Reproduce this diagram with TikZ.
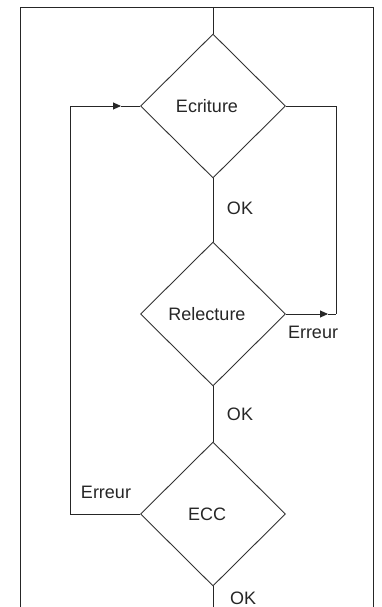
\documentclass[tikz,border=0pt]{standalone}
\usepackage{fontspec}
\setmainfont{Liberation Sans}
\usetikzlibrary{shapes.geometric,arrows.meta}
\begin{document}
\begin{tikzpicture}[x=1pt,y=-1pt,line width=0.9pt,
  txt/.style={font=\fontsize{18}{20}\selectfont, text=black!85},
  dec/.style={diamond, draw=black!80, minimum width=145pt, minimum height=144pt,
    inner sep=0pt, txt, execute at end node={\hspace*{12pt}}},
  lbl/.style={txt, inner sep=0pt},
  wire/.style={draw=black!85},
  tip/.style={-{Triangle[length=8pt,width=7pt]}}]
\useasboundingbox (0,0) rectangle (381,607);
% frame
\coordinate (f1) at (20,607);
\coordinate (f2) at (20,7);
\coordinate (f3) at (373,7);
\coordinate (f4) at (373,607);
\draw[wire] (f1) -- (f2) -- (f3) -- (f4);
% decisions
\node[dec] (ecr) at (213,106) {Ecriture};
\node[dec] (rel) at (213,314) {Relecture};
\node[dec] (ecc) at (213,514) {ECC};
% helper coordinates
\coordinate (top) at (213,7);
\coordinate (bot) at (213,607);
\coordinate (r1) at (336,106);
\coordinate (r2) at (336,314);
\coordinate (ra) at (328,314);
\coordinate (l1) at (70,514);
\coordinate (l2) at (70,106);
\coordinate (la) at (121,106);
% connectors
\draw[wire] (top) -- (ecr.north);
\draw[wire] (ecr.south) -- (rel.north);
\draw[wire] (rel.south) -- (ecc.north);
\draw[wire] (ecc.south) -- (bot);
\draw[wire] (ecr.east) -- (r1) -- (r2);
\draw[wire,tip] (rel.east) -- (ra);
\draw[wire] (ra) -- (r2);
\draw[wire] (ecc.west) -- (l1) -- (l2);
\draw[wire,tip] (l2) -- (la);
\draw[wire] (la) -- (ecr.west);
% labels
\node[lbl] (ok1) at (240,208) {OK};
\node[lbl] (ok2) at (240,414) {OK};
\node[lbl] (ok3) at (243,598) {OK};
\node[lbl] (er1) at (313,332) {Erreur};
\node[lbl] (er2) at (106,492) {Erreur};
\end{tikzpicture}
\end{document}
